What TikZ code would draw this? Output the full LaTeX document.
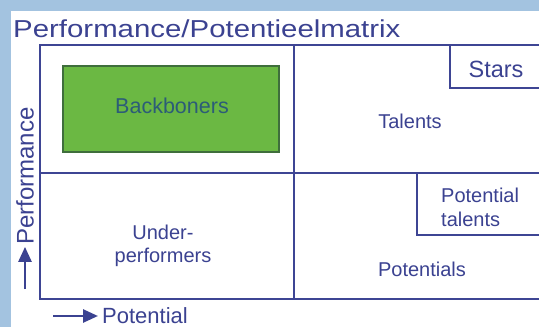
\documentclass[tikz,border=0pt]{standalone}
\usepackage{fontspec}
\setmainfont{Liberation Sans}
\usetikzlibrary{arrows.meta}
\definecolor{frameblue}{HTML}{A3C3E0}
\definecolor{ink}{HTML}{3B4291}
\definecolor{gridline}{HTML}{3E4594}
\definecolor{leaf}{HTML}{6BB843}
\definecolor{leafedge}{HTML}{3F6E3C}
\definecolor{leaftext}{HTML}{2C5C78}
\begin{document}
\begin{tikzpicture}[x=1pt,y=-1pt,
  grid/.style={draw=gridline,line width=1.8pt},
  lbl/.style={text=ink,inner sep=0pt,font=\fontsize{20}{24}\selectfont},
  axisarrow/.style={draw=ink,line width=2.6pt,-{Triangle[length=15pt,width=13pt]}}]
% page and frame
\useasboundingbox (0,0) rectangle (539,327);
\fill[frameblue] (0,0) rectangle (539,327);
\fill[white] (11,11) rectangle (539,327);
% title
\node[lbl,anchor=base west] (title) at (13,37)
  {\scalebox{1.2}[1]{\fontsize{24.5}{28}\selectfont Performance/Potentieelmatrix}};
% matrix grid
\draw[grid] (539,45) -- (40,45) -- (40,299) -- (539,299);
\draw[grid] (294,45) -- (294,299);
\draw[grid] (40,173) -- (539,173);
\draw[grid] (450,45) -- (450,88) -- (539,88);
\draw[grid] (417,173) -- (417,235) -- (539,235);
% highlighted quadrant
\node[draw=leafedge,fill=leaf,line width=1.5pt,minimum width=216pt,minimum height=86pt,inner sep=0pt] (backbox) at (171,109) {};
\node[lbl,text=leaftext,font=\fontsize{21.5}{24}\selectfont] (backboners) at (172,106) {Backboners};
% cell labels
\node[lbl,font=\fontsize{23.5}{26}\selectfont] (stars) at (496,69) {Stars};
\node[lbl] (talents) at (410,121) {Talents};
\node[lbl,align=center,font=\fontsize{20}{23}\selectfont,anchor=base] (under) at (163,262) {Under-\\performers};
\node[lbl,align=left,font=\fontsize{20}{24}\selectfont,anchor=base west] (pottal) at (441,226) {Potential\\talents};
\node[lbl,anchor=base] (potentials) at (422,276) {Potentials};
% axes
\node[lbl,rotate=90,font=\fontsize{24}{26}\selectfont] (perf) at (25,176) {Performance};
\node[lbl,anchor=base west,font=\fontsize{22}{24}\selectfont] (pot) at (102,323) {Potential};
\coordinate (perfstart) at (25,289);
\coordinate (potstart) at (53,316);
\draw[axisarrow] (perfstart) -- ([yshift=-2pt]perf.west);
\draw[axisarrow] (potstart) -- ([xshift=-4pt]pot.west |- potstart);
\end{tikzpicture}
\end{document}
